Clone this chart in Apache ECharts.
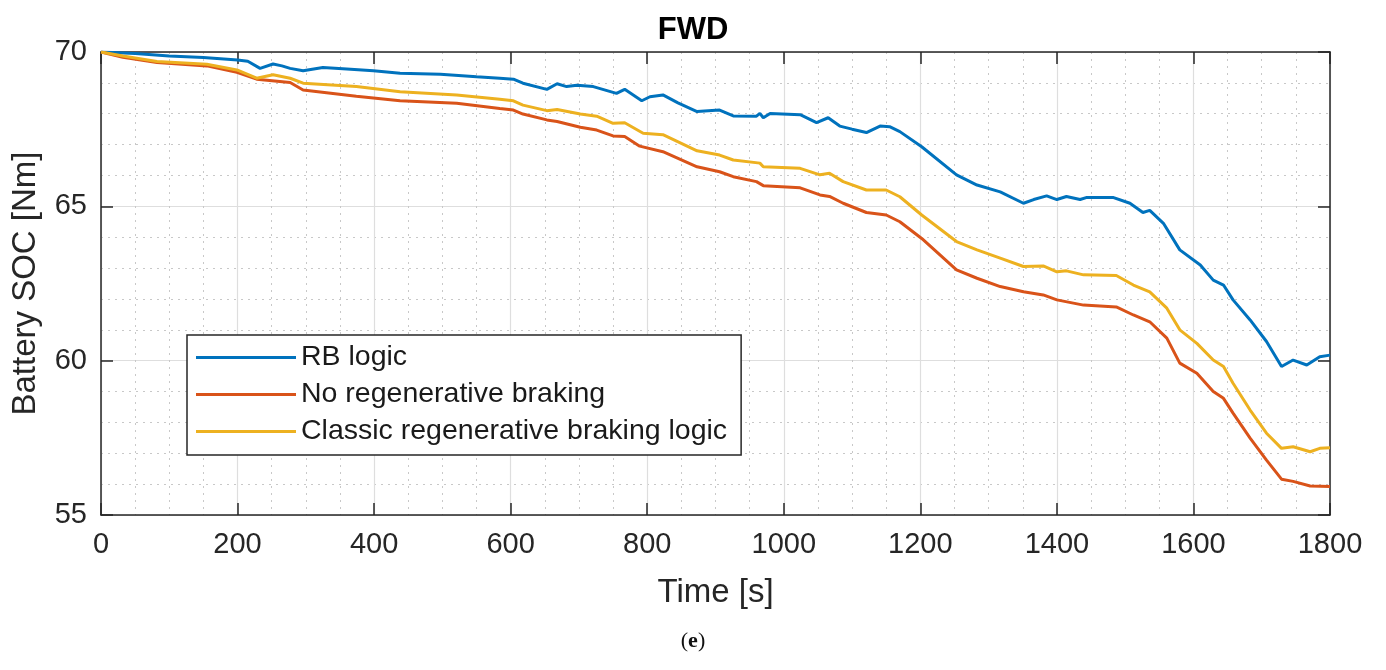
<!DOCTYPE html>
<html>
<head>
<meta charset="utf-8">
<script src="https://cdn.jsdelivr.net/npm/echarts@6/dist/echarts.min.js"></script>
<style>html,body{margin:0;padding:0;background:#fff;}#c{width:1386px;height:670px;}</style>
</head>
<body>
<div id="c"></div>
<script>
const seriesNames = ['RB logic', 'No regenerative braking', 'Classic regenerative braking logic'];
const seriesColors = ['#0072BD', '#D95319', '#EDB120'];
const xTicks = [0, 200, 400, 600, 800, 1000, 1200, 1400, 1600, 1800];
const yTicks = [55, 60, 65, 70];

const rbTime = [0,50,100,150,200,215,233,252,265,277,296,325,360,399,438,497,550,584,604,618,653,668,682,697,721,755,767,792,804,823,845,873,906,926,960,965,970,980,1024,1048,1065,1082,1100,1121,1141,1155,1170,1202,1253,1283,1317,1351,1366,1385,1400,1414,1434,1444,1482,1507,1526,1536,1556,1580,1610,1629,1644,1658,1683,1707,1729,1746,1766,1785,1800];
const rbSoc = [70,69.95,69.87,69.82,69.74,69.7,69.47,69.61,69.55,69.47,69.39,69.5,69.45,69.39,69.31,69.28,69.2,69.15,69.12,68.99,68.79,68.97,68.88,68.92,68.88,68.66,68.79,68.42,68.55,68.61,68.35,68.07,68.12,67.93,67.92,68.01,67.87,68.01,67.97,67.71,67.87,67.6,67.5,67.39,67.6,67.58,67.42,66.93,66.02,65.69,65.47,65.1,65.22,65.34,65.22,65.32,65.22,65.29,65.29,65.1,64.8,64.87,64.45,63.59,63.1,62.61,62.45,61.97,61.32,60.62,59.81,60.02,59.86,60.13,60.18];

const noRegenTime = [0,32,82,155,199,228,277,296,374,438,521,584,604,618,653,668,702,726,750,767,789,823,873,906,926,960,970,1024,1053,1067,1087,1121,1150,1170,1202,1253,1283,1317,1351,1380,1400,1439,1487,1512,1536,1561,1580,1605,1629,1644,1658,1683,1707,1729,1746,1771,1800];
const noRegenSoc = [70,69.83,69.66,69.55,69.34,69.12,69.01,68.77,68.57,68.42,68.34,68.17,68.12,67.99,67.8,67.75,67.56,67.47,67.28,67.26,66.95,66.77,66.28,66.12,65.96,65.8,65.67,65.6,65.37,65.32,65.1,64.8,64.72,64.5,63.96,62.94,62.67,62.4,62.23,62.13,61.97,61.8,61.74,61.48,61.26,60.73,59.92,59.59,59.0,58.78,58.3,57.49,56.78,56.16,56.09,55.94,55.92];

const classicTime = [0,32,82,155,199,228,252,277,296,374,438,521,584,604,618,653,668,702,726,750,767,794,823,873,906,926,965,970,1024,1053,1067,1087,1121,1150,1170,1202,1253,1283,1317,1351,1380,1400,1414,1439,1487,1512,1536,1561,1580,1605,1629,1644,1658,1683,1707,1729,1746,1771,1785,1800];
const classicSoc = [70,69.87,69.69,69.6,69.42,69.15,69.26,69.15,68.99,68.88,68.71,68.61,68.47,68.42,68.28,68.1,68.14,67.99,67.92,67.69,67.71,67.37,67.32,66.8,66.66,66.5,66.4,66.28,66.23,66.02,66.07,65.8,65.53,65.53,65.31,64.72,63.86,63.59,63.32,63.05,63.07,62.88,62.91,62.78,62.76,62.45,62.23,61.7,61.0,60.56,60.02,59.81,59.27,58.4,57.65,57.16,57.21,57.05,57.16,57.18];

const allTimes = [rbTime, noRegenTime, classicTime];
const allSoc = [rbSoc, noRegenSoc, classicSoc];

const FONT = '"Liberation Sans", Arial, Helvetica, sans-serif';
const AX = '#262626';
const chart = echarts.init(document.getElementById('c'), null, {renderer: 'canvas'});

function pairs(t, v) { return t.map((x, i) => [x, v[i]]); }

const xMin = xTicks[0], xMax = xTicks[xTicks.length - 1], xInt = xTicks[1] - xTicks[0];
const yMin = yTicks[0], yMax = yTicks[yTicks.length - 1], yInt = yTicks[1] - yTicks[0];

const option = {
  backgroundColor: '#ffffff',
  animation: false,
  title: {
    text: 'FWD', left: 'center', top: 10,
    textStyle: {fontFamily: FONT, fontSize: 31, fontWeight: 'bold', color: '#000'}
  },
  grid: {left: 101, right: 56, top: 52, bottom: 155, containLabel: false},
  legend: {
    orient: 'vertical', left: 187, top: 335,
    backgroundColor: '#fff', borderColor: AX, borderWidth: 1.5, borderRadius: 0,
    padding: [8, 14, 9, 9],
    itemWidth: 100, itemHeight: 3, itemGap: 8, icon: 'rect',
    textStyle: {fontFamily: FONT, fontSize: 28.5, color: '#1a1a1a', lineHeight: 28},
    data: seriesNames
  },
  xAxis: [{
    type: 'value', min: xMin, max: xMax, interval: xInt,
    name: 'Time [s]', nameLocation: 'middle', nameGap: 61,
    nameTextStyle: {fontFamily: FONT, fontSize: 33, color: AX},
    axisLine: {show: true, onZero: false, lineStyle: {color: AX, width: 1.5}},
    axisTick: {show: true, inside: true, length: 12, lineStyle: {color: AX, width: 1.5}},
    axisLabel: {fontFamily: FONT, fontSize: 29, color: AX, margin: 15, formatter: v => String(v)},
    splitLine: {show: true, lineStyle: {color: '#dedede', width: 1.2}},
    minorTick: {show: false, splitNumber: 4},
    minorSplitLine: {show: true, lineStyle: {color: '#c8c8c8', width: 1, type: [2, 5]}}
  }, {
    type: 'value', position: 'top', min: xMin, max: xMax, interval: xInt,
    axisLine: {show: true, onZero: false, lineStyle: {color: AX, width: 1.5}},
    axisTick: {show: true, inside: true, length: 12, lineStyle: {color: AX, width: 1.5}},
    axisLabel: {show: false}, splitLine: {show: false}
  }],
  yAxis: [{
    type: 'value', min: yMin, max: yMax, interval: yInt,
    name: 'Battery SOC [Nm]', nameLocation: 'middle', nameGap: 59,
    nameTextStyle: {fontFamily: FONT, fontSize: 33, color: AX},
    axisLine: {show: true, onZero: false, lineStyle: {color: AX, width: 1.5}},
    axisTick: {show: true, inside: true, length: 12, lineStyle: {color: AX, width: 1.5}},
    axisLabel: {fontFamily: FONT, fontSize: 29, color: AX, margin: 14, formatter: v => String(v)},
    splitLine: {show: true, lineStyle: {color: '#dedede', width: 1.2}},
    minorTick: {show: false, splitNumber: 5},
    minorSplitLine: {show: true, lineStyle: {color: '#c8c8c8', width: 1, type: [2, 5]}}
  }, {
    type: 'value', position: 'right', min: yMin, max: yMax, interval: yInt,
    axisLine: {show: true, onZero: false, lineStyle: {color: AX, width: 1.5}},
    axisTick: {show: true, inside: true, length: 12, lineStyle: {color: AX, width: 1.5}},
    axisLabel: {show: false}, splitLine: {show: false}
  }],
  graphic: [{
    type: 'text', left: 'center', top: 630,
    style: {
      text: '({e|e})', fontFamily: '"Liberation Serif", "DejaVu Serif", serif', fontSize: 22, fill: '#111',
      rich: {e: {fontFamily: '"Liberation Serif", "DejaVu Serif", serif', fontSize: 22, fontWeight: 'bold', fill: '#111'}}
    }
  }],
  series: seriesNames.map((n, i) => ({
    name: n, type: 'line', xAxisIndex: 0, yAxisIndex: 0,
    data: pairs(allTimes[i], allSoc[i]),
    showSymbol: false, symbol: 'none', smooth: false,
    color: seriesColors[i],
    lineStyle: {color: seriesColors[i], width: 3},
    z: 3
  }))
};
chart.setOption(option);
</script>
</body>
</html>
